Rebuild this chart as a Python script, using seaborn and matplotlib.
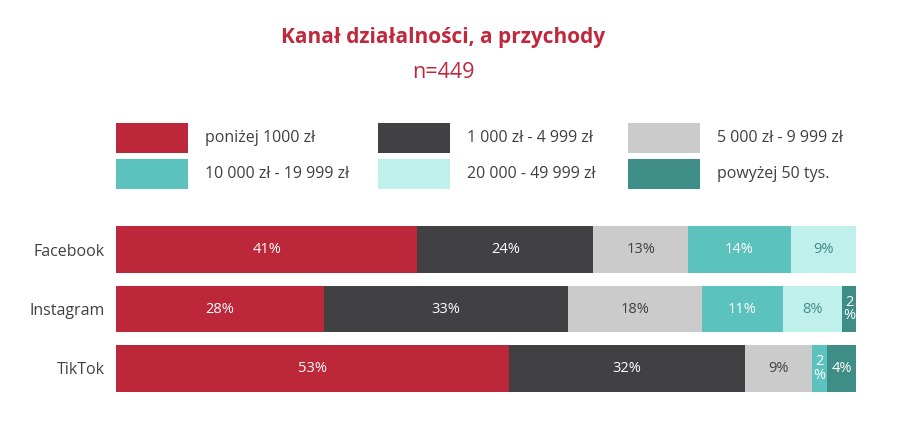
import seaborn as sns
import matplotlib.pyplot as plt
import matplotlib.patches as mpatches
import pandas as pd
import numpy as np

channels = ['Facebook', 'Instagram', 'TikTok']
income_bands = ['poniżej 1000 zł', '1 000 zł - 4 999 zł', '5 000 zł - 9 999 zł',
                '10 000 zł - 19 999 zł', '20 000 - 49 999 zł', 'powyżej 50 tys.']
# shares in %, one list per income band (Facebook, Instagram, TikTok)
below_1k = [40.7, 28.1, 53.1]
from_1k = [23.8, 33.0, 31.9]
from_5k = [12.8, 18.1, 9.1]
from_10k = [13.9, 10.9, 2.0]
from_20k = [8.8, 8.0, 0.0]
above_50k = [0.0, 1.9, 3.9]

colors = ['#BC2739', '#414143', '#CBCBCB', '#5BC2BE', '#BFF0EC', '#3E8E87']
text_colors = ['white', 'white', '#404040', 'white', '#3E8E87', 'white']

sns.set_style('white')
plt.rcParams['font.family'] = ['Open Sans', 'DejaVu Sans']

df = pd.DataFrame([below_1k, from_1k, from_5k, from_10k, from_20k, above_50k],
                  index=income_bands, columns=channels).T
cum = df.cumsum(axis=1)

fig = plt.figure(figsize=(9.18, 4.36), dpi=100)
ax = fig.add_axes([116 / 918, 1 - 398 / 436, 740 / 918, 178 / 436])

# stacked bars: draw cumulative totals from the widest down so each overlaps the previous
for band, color in reversed(list(zip(income_bands, colors))):
    sns.barplot(x=cum[band].values, y=channels, orient='h', color=color,
                width=0.79, saturation=1, linewidth=0, ax=ax)

# segment labels
for i, ch in enumerate(channels):
    for band, tc in zip(income_bands, text_colors):
        v = df.loc[ch, band]
        if v <= 0:
            continue
        xc = cum.loc[ch, band] - v / 2
        if v < 3:
            ax.text(xc, i, f'{round(v):.0f}\n%', ha='center', va='center',
                    color=tc, fontsize=10.5, linespacing=0.85)
        else:
            ax.text(xc, i, f'{round(v):.0f}%', ha='center', va='center',
                    color=tc, fontsize=10.5)

ax.set_xlim(0, 100)
ax.set_xticks([])
ax.set_xlabel('')
ax.set_ylabel('')
ax.tick_params(axis='y', length=0, pad=8, labelsize=11.5, labelcolor='#404040')
sns.despine(ax=ax, left=True, bottom=True)

# legend built by hand (3 columns x 2 rows)
col_x = [116, 378, 628]
row_y = [123, 159]
for k, (band, color) in enumerate(zip(income_bands, colors)):
    x0 = col_x[k % 3]
    y0 = row_y[k // 3]
    fig.add_artist(mpatches.Rectangle((x0 / 918, 1 - (y0 + 30) / 436), 72 / 918, 30 / 436,
                                      transform=fig.transFigure, color=color, lw=0))
    fig.text((x0 + 89) / 918, 1 - (y0 + 15) / 436, band, ha='left', va='center',
             fontsize=11.5, color='#404040')

fig.text(443 / 918, 1 - 37 / 436, 'Kanał działalności, a przychody', ha='center', va='center',
         fontsize=15, fontweight='bold', color='#C0283C')
fig.text(443 / 918, 1 - 72 / 436, 'n=449', ha='center', va='center',
         fontsize=15.5, color='#C0283C')

fig.savefig('out.png', dpi=100)
